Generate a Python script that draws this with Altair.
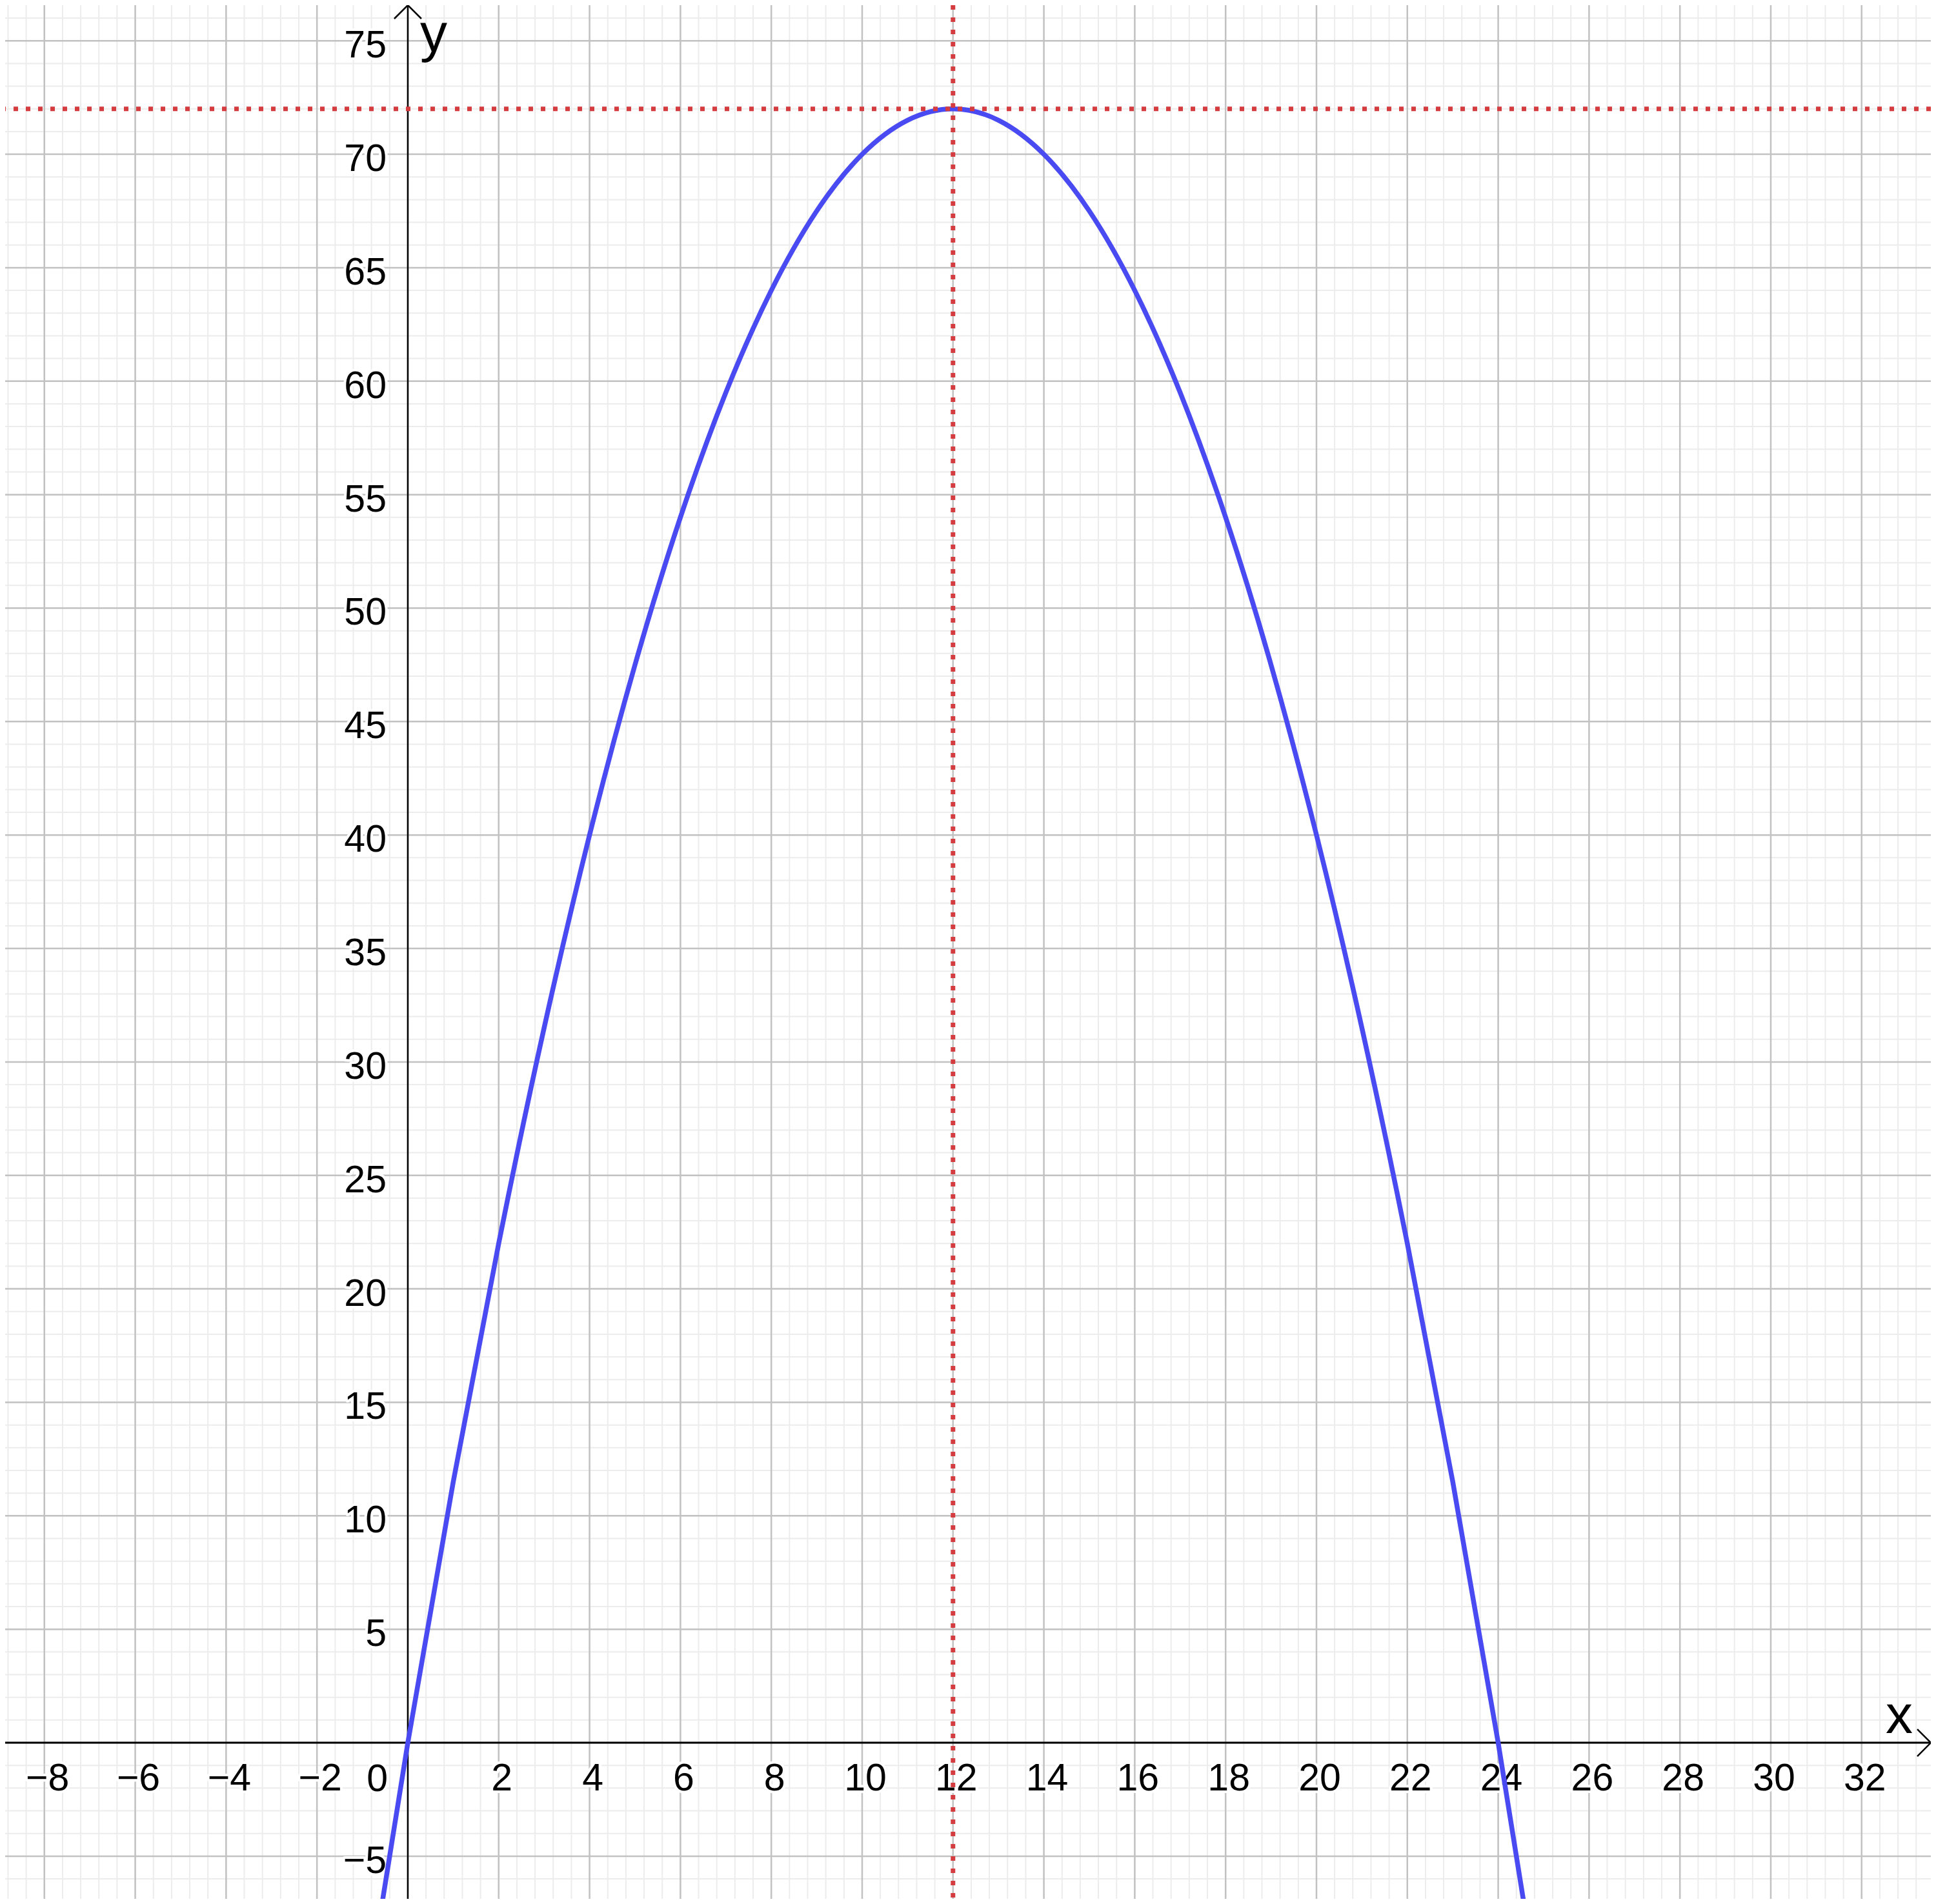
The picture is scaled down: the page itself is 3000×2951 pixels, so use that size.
import altair as alt
import pandas as pd

# ---- data ----
curve_x = list(range(-1, 26))
curve_y = [-12.5, 0, 11.5, 22, 31.5, 40, 47.5, 54, 59.5, 64, 67.5, 70, 71.5, 72,
           71.5, 70, 67.5, 64, 59.5, 54, 47.5, 40, 31.5, 22, 11.5, 0, -12.5]

vertex_x = [12]
vertex_y = [72]

x_tick_vals = [-8, -6, -4, -2, 2, 4, 6, 8, 10, 12, 14, 16, 18, 20, 22, 24, 26, 28, 30, 32]
y_tick_vals = [-5, 5, 10, 15, 20, 25, 30, 35, 40, 45, 50, 55, 60, 65, 70, 75]

major_x = list(range(-8, 34, 2))
major_y = list(range(-5, 80, 5))
minor_x = [round(-8.8 + 0.4 * i, 1) for i in range(107)]
minor_y = list(range(-7, 77))

# visible window (page margin of 8px accounted for)
X_MIN, X_MAX = -8.863, 33.523
Y_MIN, Y_MAX = -6.88, 76.57

FONT = "Liberation Sans"

xs = alt.Scale(domain=[X_MIN, X_MAX], nice=False, zero=False)
ys = alt.Scale(domain=[Y_MIN, Y_MAX], nice=False, zero=False)


def X(f):
    return alt.X(f, type="quantitative", scale=xs, axis=None)


def Y(f):
    return alt.Y(f, type="quantitative", scale=ys, axis=None)


def lab(v):
    return str(v).replace("-", "\u2212")


# grid
g_minor_x = alt.Chart(pd.DataFrame({"v": minor_x})).mark_rule(color="#ececec", strokeWidth=2).encode(x=X("v"))
g_minor_y = alt.Chart(pd.DataFrame({"v": minor_y})).mark_rule(color="#ececec", strokeWidth=2).encode(y=Y("v"))
g_major_x = alt.Chart(pd.DataFrame({"v": major_x})).mark_rule(color="#c2c2c2", strokeWidth=2.5).encode(x=X("v"))
g_major_y = alt.Chart(pd.DataFrame({"v": major_y})).mark_rule(color="#c2c2c2", strokeWidth=2.5).encode(y=Y("v"))

# axes
ax_x = alt.Chart(pd.DataFrame({"v": [0]})).mark_rule(color="black", strokeWidth=3).encode(y=Y("v"))
ax_y = alt.Chart(pd.DataFrame({"v": [0]})).mark_rule(color="black", strokeWidth=2.5).encode(x=X("v"))

arrow_y = alt.Chart(pd.DataFrame({"x": [0], "y": [Y_MAX]})).mark_point(
    shape="M -1 1 L 0 0 L 1 1", filled=False, size=1764, strokeWidth=2.5, color="black", opacity=1
).encode(x=X("x"), y=Y("y"))
arrow_x = alt.Chart(pd.DataFrame({"x": [X_MAX], "y": [0]})).mark_point(
    shape="M -1 -1 L 0 0 L -1 1", filled=False, size=1764, strokeWidth=2.5, color="black", opacity=1
).encode(x=X("x"), y=Y("y"))

# tick labels
xdf = pd.DataFrame({"x": x_tick_vals, "y": [0] * len(x_tick_vals), "t": [lab(v) for v in x_tick_vals]})
ydf = pd.DataFrame({"x": [0] * len(y_tick_vals), "y": y_tick_vals, "t": [lab(v) for v in y_tick_vals]})
zdf = pd.DataFrame({"x": [0], "y": [0], "t": ["0"]})

common = dict(font=FONT, fontSize=59, baseline="alphabetic")


def text_pair(df, **kw):
    halo = alt.Chart(df).mark_text(stroke="white", strokeWidth=8, strokeJoin="round", fill="white", **common, **kw).encode(
        x=X("x"), y=Y("y"), text="t:N")
    txt = alt.Chart(df).mark_text(color="black", **common, **kw).encode(x=X("x"), y=Y("y"), text="t:N")
    return [halo, txt]


xl = text_pair(xdf, align="center", dx=5, dy=74)
yl = text_pair(ydf, align="right", dx=-33, dy=26)
zl = text_pair(zdf, align="right", dx=-31, dy=75)

# axis names
xname = alt.Chart(pd.DataFrame({"x": [X_MAX], "y": [0], "t": ["x"]})).mark_text(
    font=FONT, fontSize=84, align="right", baseline="alphabetic", dx=-28, dy=-15, color="black"
).encode(x=X("x"), y=Y("y"), text="t:N")
yname = alt.Chart(pd.DataFrame({"x": [0], "y": [Y_MAX], "t": ["y"]})).mark_text(
    font=FONT, fontSize=84, align="left", baseline="alphabetic", dx=19, dy=72, color="black"
).encode(x=X("x"), y=Y("y"), text="t:N")

# curve
curve = alt.Chart(pd.DataFrame({"x": curve_x, "y": curve_y})).mark_line(
    color="#4a4af2", strokeWidth=7.5, interpolate="monotone", clip=True, strokeCap="round"
).encode(x=X("x"), y=Y("y"), order="x:Q")

# red dotted lines
red_h = alt.Chart(pd.DataFrame({"v": vertex_y})).mark_rule(
    color="#d43c40", strokeWidth=7, strokeDash=[7, 12]).encode(y=Y("v"))
red_v = alt.Chart(pd.DataFrame({"v": vertex_x})).mark_rule(
    color="#d43c40", strokeWidth=7, strokeDash=[7, 12]).encode(x=X("v"))

chart = alt.layer(
    g_minor_x, g_minor_y, g_major_x, g_major_y,
    ax_x, ax_y, arrow_x, arrow_y,
    *xl, *yl, *zl, xname, yname,
    curve, red_h, red_v,
).properties(
    width=2984, height=2935, padding=0, autosize="none", background="white"
).configure_view(strokeWidth=0)

chart.save("out.html", embed_options={"renderer": "svg", "actions": False})
